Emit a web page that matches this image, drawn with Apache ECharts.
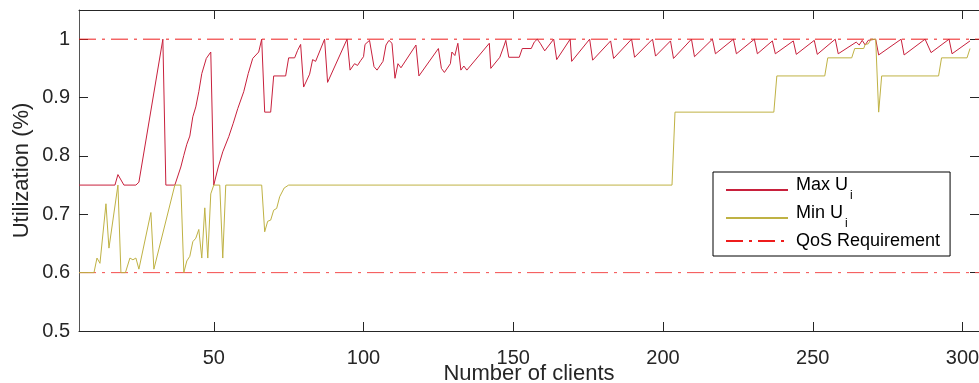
<!DOCTYPE html>
<html><head><meta charset="utf-8">
<script src="https://cdn.jsdelivr.net/npm/echarts@6/dist/echarts.min.js"></script>
<style>html,body{margin:0;padding:0;background:#fff}#c{width:979px;height:383px}</style>
</head><body><div id="c"></div>
<script>
const xTicks = [50, 100, 150, 200, 250, 300];
const yTicks = [0.5, 0.6, 0.7, 0.8, 0.9, 1.0];
const qosLevels = [1.0, 0.6];
const seriesNames = ['Max Ui', 'Min Ui', 'QoS Requirement'];
const maxUtilization = [[5,0.75],[17,0.75],[18,0.768],[20,0.75],[24,0.75],[25,0.755],[33,1.0],[34,0.75],[37,0.75],[39,0.781],[40,0.801],[41,0.82],[42,0.834],[43,0.867],[44,0.884],[45,0.91],[46,0.941],[47.5,0.967],[49,0.978],[50,0.75],[51.5,0.781],[53,0.807],[55,0.833],[56.5,0.856],[58,0.881],[60,0.91],[61.5,0.941],[63,0.967],[65,0.978],[66,1.0],[67,0.875],[69,0.875],[70,0.937],[74,0.937],[75,0.968],[77,0.968],[78,0.981],[79,0.991],[80,0.918],[82,0.94],[83,0.965],[84,0.962],[87,1.0],[88,0.926],[94.5,1.0],[95.5,0.947],[97,0.958],[98,0.955],[99,0.963],[100,0.97],[100.5,0.991],[101,0.988],[102,0.998],[102.5,1.0],[103.5,0.953],[104.5,0.947],[106.5,0.962],[107.5,0.99],[108.5,0.998],[109.5,0.993],[110.5,0.933],[111.5,0.958],[112.5,0.951],[117.5,0.99],[118.5,0.937],[125,0.984],[126,0.95],[127,0.943],[129,0.958],[129.5,0.978],[130.5,0.972],[131.5,0.993],[132.5,0.947],[133.5,0.954],[134.5,0.947],[142,0.993],[142.5,0.95],[145.5,0.969],[147,0.99],[147.5,0.998],[148.5,0.969],[152,0.969],[153,0.984],[156,0.984],[157,0.995],[158,1.0],[159,0.993],[160.5,0.98],[163.5,1.0],[164.5,0.965],[169,1.0],[169.5,0.962],[175.5,1.0],[176.5,0.964],[182.5,0.997],[183.5,0.967],[189.5,1.0],[190.5,0.969],[196.5,1.0],[197.5,0.971],[202.5,0.997],[203.5,0.967],[209.5,1.0],[210.5,0.97],[216.5,1.0],[217.5,0.975],[223.5,1.0],[224.5,0.975],[230.5,1.0],[231.5,0.975],[236.5,0.997],[237.5,0.975],[243.5,0.997],[244.5,0.974],[250.5,0.998],[251.5,0.974],[257.5,1.0],[258.5,0.975],[264.5,0.995],[265.5,0.99],[266.5,0.998],[267.5,0.99],[268.5,0.998],[271,1.0],[272,0.973],[279.5,1.0],[280.5,0.973],[287.5,1.0],[289.5,0.977],[295.5,1.0],[296.5,0.975],[302.5,0.997]];
const minUtilization = [[5,0.6],[10,0.6],[11,0.625],[12,0.616],[14,0.718],[15,0.642],[18,0.75],[19,0.6],[20.5,0.6],[22,0.625],[23,0.622],[24,0.625],[25,0.606],[29,0.703],[30,0.606],[37,0.75],[39,0.75],[40,0.6],[41,0.62],[42,0.628],[43,0.653],[44,0.659],[45,0.674],[46,0.625],[47,0.711],[48,0.625],[49,0.735],[50,0.75],[52,0.75],[53,0.625],[54,0.75],[66,0.75],[67,0.67],[68,0.688],[69,0.69],[70,0.707],[71,0.71],[72,0.73],[73.5,0.745],[75,0.75],[203,0.75],[204,0.875],[237,0.875],[238,0.937],[254,0.937],[255,0.968],[263,0.968],[264,0.984],[267,0.984],[267.5,0.991],[268.5,0.992],[269.5,1.0],[271,1.0],[272,0.875],[273,0.937],[292,0.937],[293,0.968],[301.5,0.968],[302.5,0.984]];

const FONT = '"Liberation Sans", Arial, sans-serif';
const AX = '#262626';
const X_MIN = 5, X_MAX = 305.5;
const chart = echarts.init(document.getElementById('c'), null, {renderer: 'canvas'});
const xBase = {type: 'value', min: X_MIN, max: X_MAX, splitLine: {show: false}};
const yBase = {type: 'value', min: 0.5, max: 1.05, splitLine: {show: false}};
const qosDash = [17, 6, 3, 6];
const qosColors = ['#ee1c1c', '#f44c4c'];
const qosSeries = qosLevels.map(function (q, i) {
  return {
    name: seriesNames[2], type: 'line', data: [[X_MIN, q], [X_MAX, q]],
    symbol: 'none', showSymbol: false, silent: true,
    lineStyle: {color: qosColors[i], width: 1, type: qosDash},
    itemStyle: {color: qosColors[i]}, z: 2
  };
});
chart.setOption({
  animation: false,
  backgroundColor: '#fff',
  textStyle: {fontFamily: FONT},
  grid: {left: 79, right: 0, top: 10, bottom: 52, containLabel: false, outerBoundsMode: 'none'},
  xAxis: [
    Object.assign({}, xBase, {
      position: 'bottom', name: 'Number of clients', nameLocation: 'middle', nameGap: 32,
      nameMoveOverlap: false,
      nameTextStyle: {fontSize: 22, color: AX, fontFamily: FONT},
      axisLine: {lineStyle: {color: AX, width: 1}},
      axisTick: {inside: true, length: 9, customValues: xTicks, lineStyle: {color: AX}},
      axisLabel: {customValues: xTicks, fontSize: 20, color: AX, margin: 17, fontFamily: FONT}
    }),
    Object.assign({}, xBase, {
      position: 'top',
      axisLine: {lineStyle: {color: AX, width: 1}},
      axisTick: {inside: true, length: 9, customValues: xTicks, lineStyle: {color: AX}},
      axisLabel: {show: false}
    })
  ],
  yAxis: [
    Object.assign({}, yBase, {
      position: 'left', name: 'Utilization (%)', nameLocation: 'middle', nameGap: 46,
      nameMoveOverlap: false,
      nameTextStyle: {fontSize: 22, color: AX, fontFamily: FONT},
      axisLine: {show: true, lineStyle: {color: '#555', width: 1}},
      axisTick: {show: true, inside: true, length: 9, customValues: yTicks, lineStyle: {color: AX}},
      axisLabel: {customValues: yTicks, fontSize: 20, color: AX, margin: 9, fontFamily: FONT}
    }),
    Object.assign({}, yBase, {
      position: 'right',
      axisLine: {show: true, lineStyle: {color: AX, width: 1}},
      axisTick: {show: true, inside: true, length: 9, customValues: yTicks, lineStyle: {color: AX}},
      axisLabel: {show: false}
    })
  ],
  legend: {
    data: seriesNames,
    orient: 'vertical', left: 713, top: 172,
    padding: [4, 10, 6, 12],
    itemGap: 2, itemWidth: 62, itemHeight: 10,
    itemStyle: {opacity: 0},
    borderColor: '#000', borderWidth: 1, backgroundColor: '#fff',
    formatter: function (n) {
      if (n === 'QoS Requirement') return '{q|' + n + '}';
      return '{t|' + n.slice(0, -1) + '}{s|' + n.slice(-1) + '}';
    },
    textStyle: {
      fontFamily: FONT, color: '#000', fontSize: 18,
      rich: {
        t: {fontSize: 18, color: '#000', fontFamily: FONT, padding: [0, 0, 10, 3]},
        s: {fontSize: 12, color: '#000', fontFamily: FONT, padding: [14, 0, 2, 2]},
        q: {fontSize: 18, color: '#000', fontFamily: FONT, padding: [0, 0, 0, 3]}
      }
    }
  },
  series: [
    {
      name: seriesNames[0], type: 'line', data: maxUtilization, symbol: 'none', showSymbol: false,
      lineStyle: {color: '#c8203c', width: 1}, itemStyle: {color: '#c8203c'}, z: 3
    },
    {
      name: seriesNames[1], type: 'line', data: minUtilization, symbol: 'none', showSymbol: false,
      lineStyle: {color: '#bfb244', width: 1}, itemStyle: {color: '#bfb244'}, z: 4
    }
  ].concat(qosSeries)
});
</script>
</body></html>
